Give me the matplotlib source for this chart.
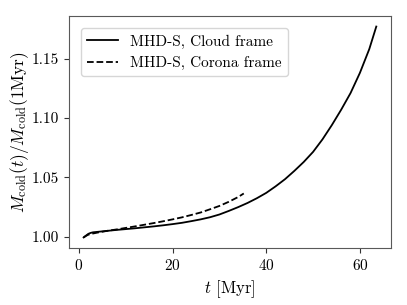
import matplotlib
matplotlib.use("Agg")
import matplotlib.pyplot as plt

plt.rcParams['font.family'] = 'serif'
plt.rcParams['font.serif'] = ['cmr10']
plt.rcParams['mathtext.fontset'] = 'cm'
plt.rcParams['axes.formatter.use_mathtext'] = True

# cloud frame
t_cloud = [1.0, 1.5, 2.0, 2.5, 3, 4, 6, 8, 10, 12, 14, 16, 18, 20, 22, 24, 26, 28, 30,
           32, 34, 36, 38, 40, 42, 44, 46, 48, 50, 52, 54, 56, 58, 60, 62, 63.5]
m_cloud = [0.9995, 1.001, 1.0025, 1.0033, 1.0038, 1.0042, 1.0050, 1.0058, 1.0065, 1.0072,
           1.0080, 1.0088, 1.0097, 1.0107, 1.0118, 1.0132, 1.0147, 1.0165, 1.0188,
           1.0218, 1.0250, 1.0285, 1.0325, 1.0370, 1.0425, 1.0485, 1.0555, 1.0630,
           1.0715, 1.0820, 1.0940, 1.1070, 1.1210, 1.1380, 1.1580, 1.1770]

# corona frame
t_corona = [1.0, 1.5, 2, 3, 4, 6, 8, 10, 12, 14, 16, 18, 20, 22, 24, 26, 28, 30, 32, 34, 35.2]
m_corona = [0.9995, 1.0008, 1.0018, 1.0028, 1.0036, 1.0050, 1.0062, 1.0075, 1.0088, 1.0102,
            1.0116, 1.0131, 1.0147, 1.0164, 1.0184, 1.0205, 1.0232, 1.0260, 1.0295,
            1.0335, 1.0365]

fig = plt.figure(figsize=(4.07, 3.05), dpi=100)
ax = fig.add_axes([0.1695, 0.187, 0.791, 0.7605])

ax.plot(t_cloud, m_cloud, color='black', lw=1.3, label='MHD-S, Cloud frame')
ax.plot(t_corona, m_corona, color='black', lw=1.3, ls='--', label='MHD-S, Corona frame')

ax.set_xticks([0, 20, 40, 60])
ax.set_yticks([1.00, 1.05, 1.10, 1.15])
ax.set_yticklabels(['1.00', '1.05', '1.10', '1.15'])
ax.tick_params(labelsize=11, color='0.2')
for s in ax.spines.values():
    s.set_color('0.35')

ax.set_xlabel(r'$t$ [Myr]', fontsize=12)
ax.set_ylabel(r'$M_{\rm cold}(t)/M_{\rm cold}(1{\rm Myr})$', fontsize=12.5, labelpad=1)
ax.legend(loc='upper left', fontsize=11, borderaxespad=0.8)

fig.savefig('out.png', dpi=100)
